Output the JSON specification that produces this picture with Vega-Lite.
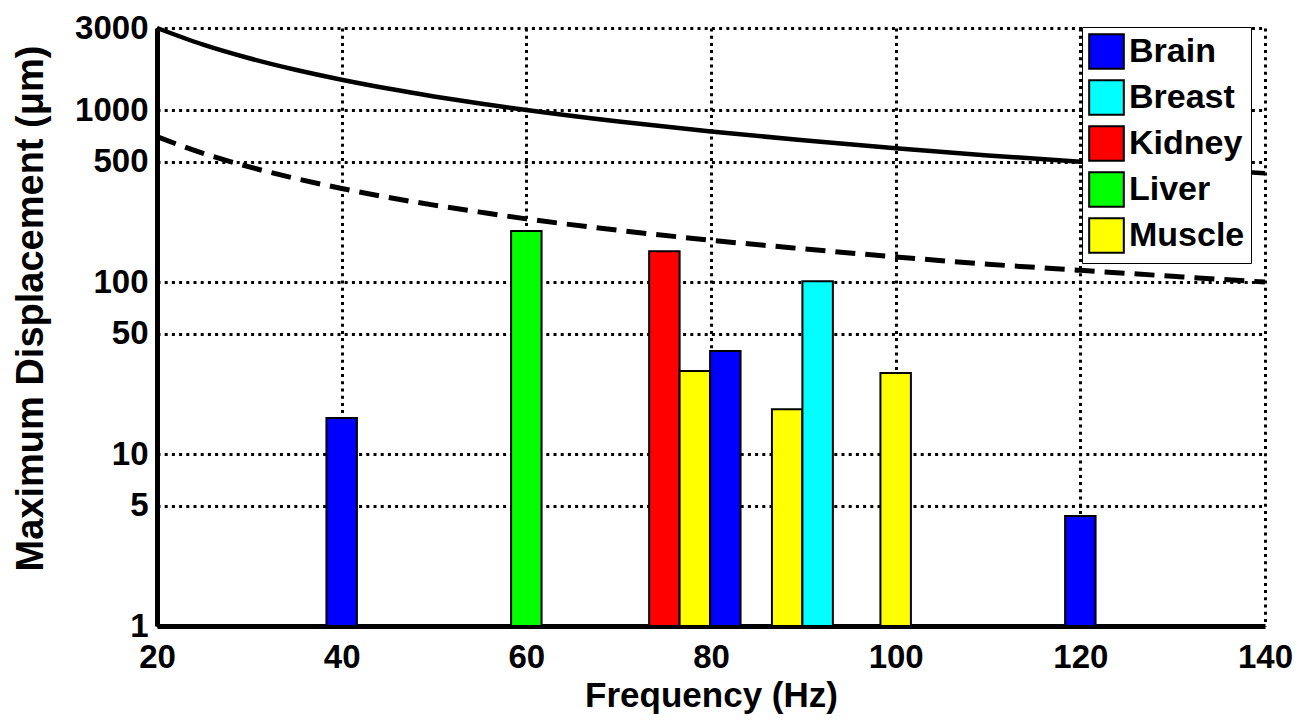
{
  "$schema": "https://vega.github.io/schema/vega-lite/v6.json",
  "width": 1108,
  "height": 598,
  "autosize": "none",
  "padding": {"left": 157, "top": 28, "right": 42, "bottom": 96},
  "background": "white",
  "config": {
    "font": "Liberation Sans",
    "view": {"stroke": null},
    "axis": {
      "labelFont": "Liberation Sans",
      "labelFontWeight": "bold",
      "labelFontSize": 33,
      "labelColor": "black",
      "titleFont": "Liberation Sans",
      "titleFontWeight": "bold",
      "titleFontSize": 36,
      "titleColor": "black",
      "domainColor": "black",
      "domainWidth": 5,
      "tickColor": "black",
      "tickSize": 0,
      "grid": true,
      "gridColor": "black",
      "gridWidth": 3,
      "gridDash": [3, 4.2],
      "gridOpacity": 1
    }
  },
  "layer": [
    {
      "data": {
        "values": [
          {"tissue": "Brain", "f0": 38.35, "f1": 41.65, "disp": 16.2},
          {"tissue": "Liver", "f0": 58.35, "f1": 61.65, "disp": 198},
          {"tissue": "Kidney", "f0": 73.3, "f1": 76.6, "disp": 151},
          {"tissue": "Muscle", "f0": 76.6, "f1": 79.9, "disp": 30.4},
          {"tissue": "Brain", "f0": 79.9, "f1": 83.2, "disp": 39.7},
          {"tissue": "Muscle", "f0": 86.6, "f1": 89.9, "disp": 18.2},
          {"tissue": "Breast", "f0": 89.9, "f1": 93.2, "disp": 101},
          {"tissue": "Muscle", "f0": 98.35, "f1": 101.65, "disp": 29.6},
          {"tissue": "Brain", "f0": 118.35, "f1": 121.65, "disp": 4.36}
        ]
      },
      "mark": {"type": "bar", "stroke": "black", "strokeWidth": 2, "opacity": 1},
      "encoding": {
        "x": {
          "field": "f0", "type": "quantitative",
          "scale": {"domain": [20, 140], "nice": false, "zero": false},
          "axis": {"values": [20, 40, 60, 80, 100, 120, 140], "title": "Frequency (Hz)", "labelPadding": 15, "titlePadding": 4, "titleFontSize": 35, "labelFlush": false}
        },
        "x2": {"field": "f1"},
        "y": {
          "field": "disp", "type": "quantitative",
          "scale": {"type": "log", "domain": [1, 3000], "nice": false},
          "axis": {"values": [1, 5, 10, 50, 100, 500, 1000, 3000], "format": "d", "title": "Maximum Displacement (μm)", "titleFontSize": 38, "titleX": -107, "titleY": 280, "labelPadding": 9, "labelFlush": false}
        },
        "y2": {"datum": 1},
        "color": {
          "field": "tissue", "type": "nominal",
          "scale": {"domain": ["Brain", "Breast", "Kidney", "Liver", "Muscle"], "range": ["#0000ff", "#00ffff", "#ff0000", "#00ff00", "#ffff00"]},
          "legend": {
            "title": null,
            "orient": "none",
            "legendX": 925,
            "legendY": -1,
            "symbolType": "square",
            "symbolSize": 1200,
            "symbolStrokeColor": "black",
            "symbolStrokeWidth": 2,
            "symbolOpacity": 1,
            "labelFont": "Liberation Sans",
            "labelFontWeight": "bold",
            "labelFontSize": 34,
            "labelColor": "black",
            "labelOffset": 4,
            "rowPadding": 3,
            "padding": 6,
            "strokeColor": "black",
            "fillColor": "white"
          }
        }
      }
    },
    {
      "data": {
        "values": [
          {"f": 20, "v": 3000}, {"f": 25, "v": 2400}, {"f": 30, "v": 2000}, {"f": 35, "v": 1714},
          {"f": 40, "v": 1500}, {"f": 45, "v": 1333}, {"f": 50, "v": 1200}, {"f": 55, "v": 1091},
          {"f": 60, "v": 1000}, {"f": 70, "v": 857}, {"f": 80, "v": 750}, {"f": 90, "v": 667},
          {"f": 100, "v": 600}, {"f": 110, "v": 545}, {"f": 120, "v": 500}, {"f": 130, "v": 462},
          {"f": 140, "v": 429}
        ]
      },
      "mark": {"type": "line", "color": "black", "strokeWidth": 4.5, "interpolate": "monotone"},
      "encoding": {
        "x": {"field": "f", "type": "quantitative"},
        "y": {"field": "v", "type": "quantitative"}
      }
    },
    {
      "data": {
        "values": [
          {"f": 20, "v": 700}, {"f": 25, "v": 560}, {"f": 30, "v": 467}, {"f": 35, "v": 400},
          {"f": 40, "v": 350}, {"f": 45, "v": 311}, {"f": 50, "v": 280}, {"f": 55, "v": 255},
          {"f": 60, "v": 233}, {"f": 70, "v": 200}, {"f": 80, "v": 175}, {"f": 90, "v": 156},
          {"f": 100, "v": 140}, {"f": 110, "v": 127}, {"f": 120, "v": 117}, {"f": 130, "v": 108},
          {"f": 140, "v": 100}
        ]
      },
      "mark": {"type": "line", "color": "black", "strokeWidth": 5, "strokeDash": [20, 10], "interpolate": "monotone"},
      "encoding": {
        "x": {"field": "f", "type": "quantitative"},
        "y": {"field": "v", "type": "quantitative"}
      }
    }
  ]
}
